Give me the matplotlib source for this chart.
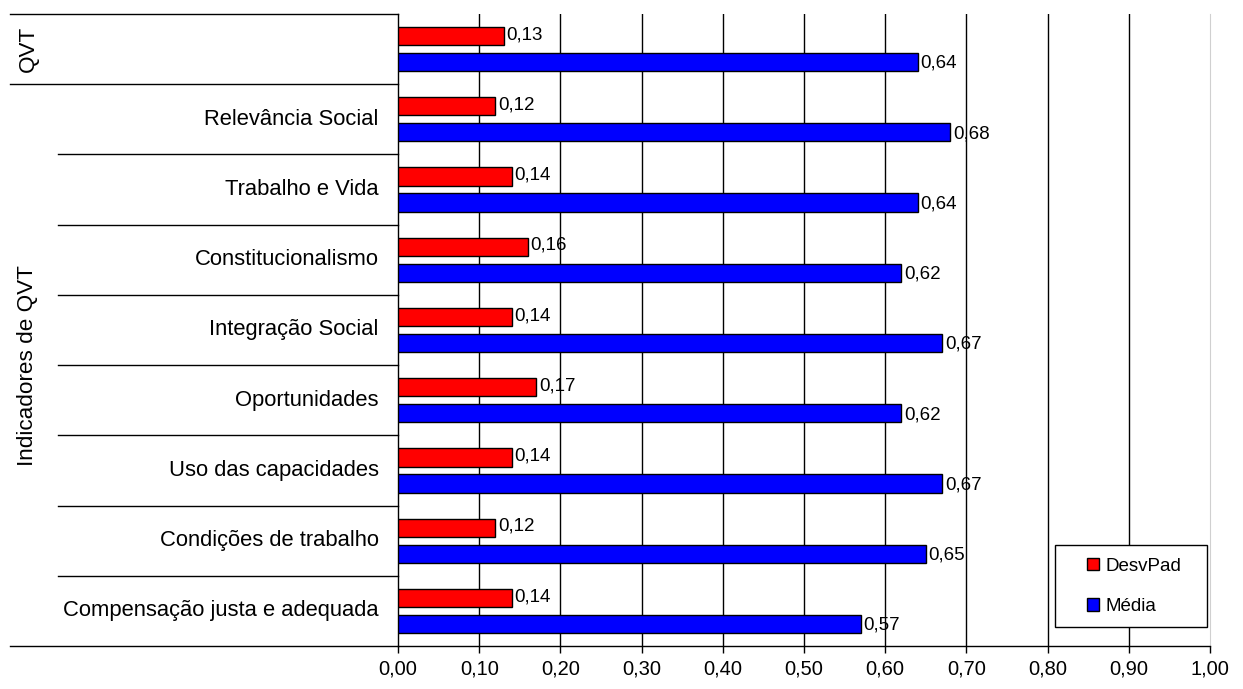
import matplotlib.pyplot as plt
from matplotlib.lines import Line2D
from matplotlib.patches import Rectangle

plt.rcParams["font.family"] = ["Liberation Sans", "DejaVu Sans"]

# categorias de baixo para cima (a de cima é o índice geral QVT, sem nome)
categorias = ["Compensação justa e adequada", "Condições de trabalho",
              "Uso das capacidades", "Oportunidades", "Integração Social",
              "Constitucionalismo", "Trabalho e Vida", "Relevância Social", ""]
desvpad = [0.14, 0.12, 0.14, 0.17, 0.14, 0.16, 0.14, 0.12, 0.13]
media = [0.57, 0.65, 0.67, 0.62, 0.67, 0.62, 0.64, 0.68, 0.64]
grupos = [("Indicadores de QVT", 0, 8), ("QVT", 8, 9)]
xticks = [i / 10 for i in range(11)]

fig = plt.figure(figsize=(12.43, 6.89), dpi=100)
ax = fig.add_axes([0.3202, 0.0624, 0.6533, 0.9173])

n = len(categorias)
ys = list(range(n))
h = 0.26
off = 0.185
ax.barh([y + off for y in ys], desvpad, height=h, color="#ff0000",
        edgecolor="black", linewidth=1, label="DesvPad", zorder=3)
ax.barh([y - off for y in ys], media, height=h, color="#0000ff",
        edgecolor="black", linewidth=1, label="Média", zorder=3)

for y, v in zip(ys, desvpad):
    ax.annotate(f"{v:.2f}".replace(".", ","), (v, y + off), xytext=(2, 1),
                textcoords="offset points", va="center", ha="left", fontsize=13.5)
for y, v in zip(ys, media):
    ax.annotate(f"{v:.2f}".replace(".", ","), (v, y - off), xytext=(2, -1),
                textcoords="offset points", va="center", ha="left", fontsize=13.5)

ax.set_xlim(0, 1.0)
ax.set_ylim(-0.5, n - 0.5)
ax.set_xticks(xticks)
ax.set_xticklabels([f"{t:.2f}".replace(".", ",") for t in xticks], fontsize=14.5)
ax.tick_params(axis="x", length=5, width=1, pad=5, direction="out")
ax.set_yticks([])
for t in xticks[1:-1]:
    ax.axvline(t, color="black", linewidth=1, zorder=1)

ax.spines["top"].set_visible(False)
ax.spines["right"].set_color("#d0d0d0")
ax.spines["left"].set_linewidth(1)
ax.spines["bottom"].set_linewidth(1)

# eixo de categorias em dois níveis
tr = ax.get_yaxis_transform()
for y, nome in zip(ys, categorias):
    ax.text(-0.024, y, nome, transform=tr, ha="right", va="center",
            fontsize=15.8, clip_on=False)

x_grupo = -0.4778
x_cat = -0.4187
for nome, ini, fim in grupos:
    ax.text(-0.4557, (ini + fim) / 2 - 0.5, nome, transform=tr, rotation=90,
            ha="center", va="center", fontsize=16.2, clip_on=False)
for b in range(n + 1):
    y = b - 0.5
    x0 = x_grupo if b in (0, 8, 9) else x_cat
    ax.add_line(Line2D([x0, 0], [y, y], transform=tr, color="black",
                       linewidth=1, clip_on=False))

# legenda: caixa desenhada à parte, entradas sem moldura
ax.add_patch(Rectangle((0.809, 0.030), 0.1873, 0.1298, transform=ax.transAxes,
                       facecolor="white", edgecolor="black", linewidth=1,
                       zorder=5))
handles, labels = ax.get_legend_handles_labels()
leg = ax.legend(handles, labels, loc="center left", bbox_to_anchor=(0.8485, 0.0941),
                fontsize=13.5, frameon=False, handlelength=0.64,
                handleheight=0.64, labelspacing=1.25, borderpad=0,
                handletextpad=0.37, borderaxespad=0)
leg.set_zorder(6)

fig.savefig("out.png", dpi=100)
